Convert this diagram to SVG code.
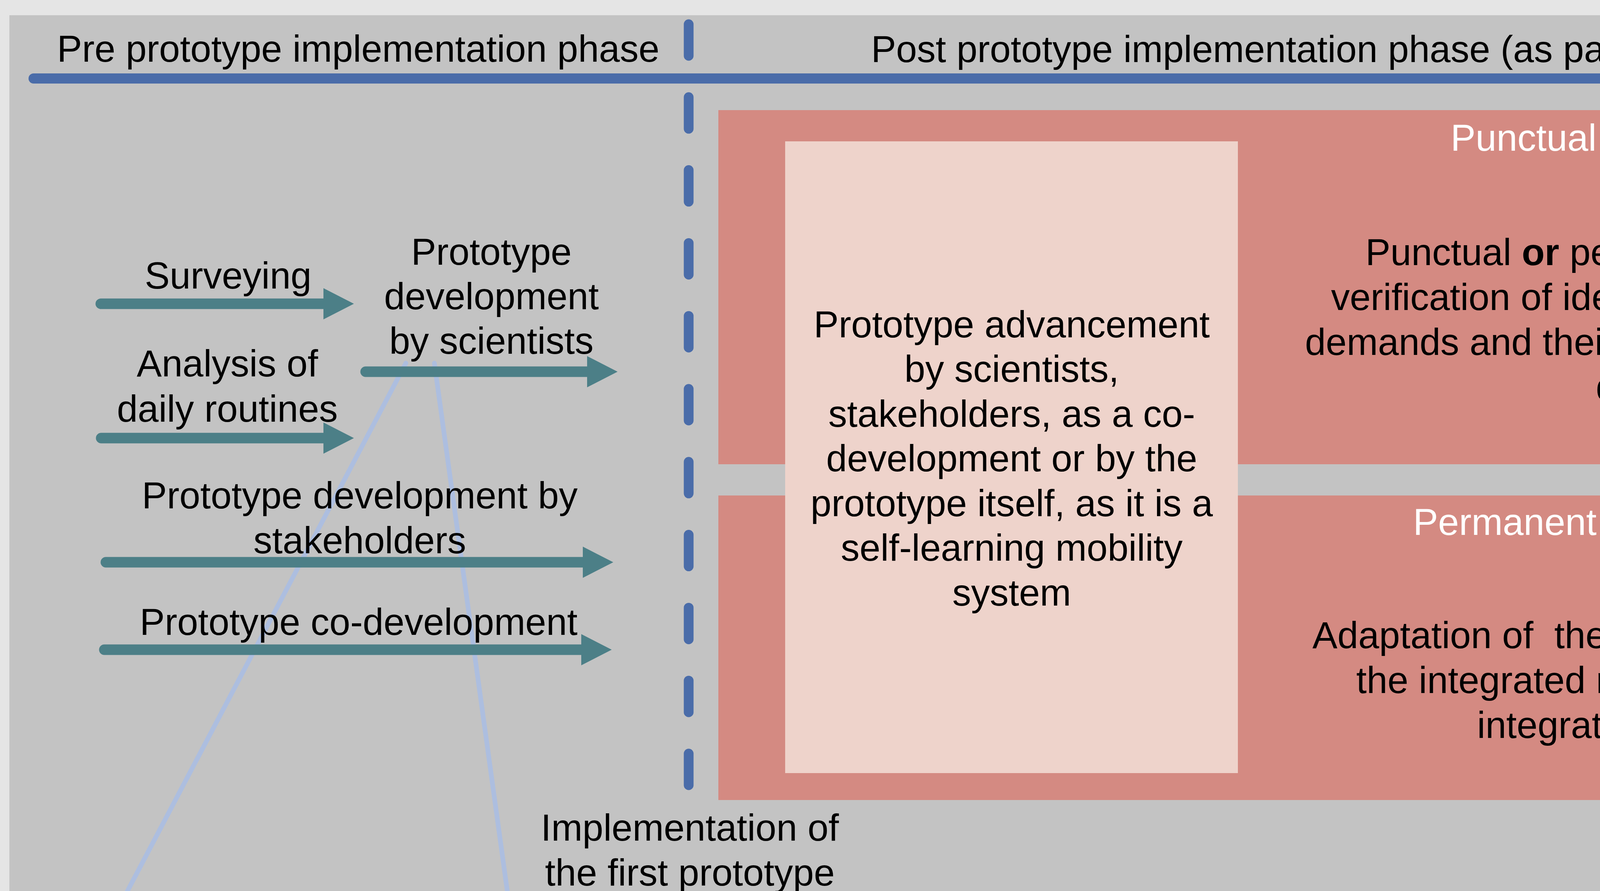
<svg xmlns="http://www.w3.org/2000/svg" width="5673" height="2282" viewBox="0 0 5673 2282">
<style>
text{font-family:"Liberation Sans",Arial,"DejaVu Sans",sans-serif;font-size:96px;fill:#000}
.c{text-anchor:middle}
.r{text-anchor:end}
.w{fill:#fff}
.teal{stroke:#4c7f87;stroke-width:27;stroke-linecap:round;fill:none}
.thin{stroke:#adbedf;stroke-width:12;stroke-linecap:round;fill:none}
.pink{fill:#d48a82}
.light{fill:#eed3cb}
</style>
<defs>
<marker id="tealHead" markerUnits="userSpaceOnUse" markerWidth="78" markerHeight="80" viewBox="0 0 78 80" refX="0" refY="40" orient="auto">
<path d="M0,0 L78,40 L0,80 Z" fill="#4c7f87"/>
</marker>
<marker id="blueHead" markerUnits="userSpaceOnUse" markerWidth="80" markerHeight="80" viewBox="0 0 80 80" refX="0" refY="40" orient="auto">
<path d="M0,1 L80,40 L0,79 Z" fill="#4a6ca9"/>
</marker>
</defs>
<rect x="0" y="0" width="5673" height="2282" fill="#e5e5e5"/>
<rect id="panel" x="24" y="39" width="5627" height="2260" fill="#c3c3c3"/>

<g id="timeline">
<line x1="86" y1="201" x2="5510" y2="201" stroke="#4a6ca9" stroke-width="26" stroke-linecap="round" marker-end="url(#blueHead)"/>
<line x1="1763" y1="62" x2="1763" y2="2011" stroke="#4a6ca9" stroke-width="25" stroke-linecap="round" stroke-dasharray="81 105.8"/>
<text class="c" x="917" y="158">Pre prototype implementation phase</text>
<text class="c" x="3676" y="159">Post prototype implementation phase (as part of a reality laboratory)</text>
</g>

<g id="connectors">
<line class="thin" x1="1039" y1="930" x2="321" y2="2292"/>
<line class="thin" x1="1112" y1="930" x2="1300" y2="2292"/>
<line class="teal" x1="258" y1="778" x2="828" y2="778" marker-end="url(#tealHead)"/>
<line class="teal" x1="936" y1="952" x2="1503" y2="952" marker-end="url(#tealHead)"/>
<line class="teal" x1="259" y1="1122" x2="828" y2="1122" marker-end="url(#tealHead)"/>
<line class="teal" x1="271" y1="1440" x2="1492" y2="1440" marker-end="url(#tealHead)"/>
<line class="teal" x1="267" y1="1664" x2="1488" y2="1664" marker-end="url(#tealHead)"/>
</g>

<g id="surveying"><text class="c" x="584" y="739">Surveying</text></g>
<g id="dev-scientists">
<text class="c" x="1258" y="678">Prototype</text>
<text class="c" x="1258" y="792">development</text>
<text class="c" x="1258" y="906">by scientists</text>
</g>
<g id="analysis">
<text class="c" x="582" y="964">Analysis of</text>
<text class="c" x="582" y="1080">daily routines</text>
</g>
<g id="dev-stakeholders">
<text class="c" x="921" y="1302">Prototype development by</text>
<text class="c" x="921" y="1417">stakeholders</text>
</g>
<g id="co-development"><text class="c" x="918" y="1626">Prototype co-development</text></g>
<g id="implementation">
<text class="c" x="1766" y="2153">Implementation of</text>
<text class="c" x="1766" y="2268">the first prototype</text>
</g>

<g id="punctual">
<path class="pink" d="M1839,282 H5408 L5515,736 L5408,1189 H1839 Z"/>
<text class="r w" x="5384" y="386">Punctual advancement of the prototype</text>
<text class="r w" x="5384" y="502">(modify punctually)</text>
<text class="c" x="4360" y="679">Punctual <tspan font-weight="bold">or</tspan> permanent identification and</text>
<text class="c" x="4360" y="794">verification of identified needs, requirements,</text>
<text class="c" x="4360" y="909">demands and their integration into the prototype</text>
<text class="c" x="4360" y="1024">development</text>
</g>

<g id="permanent">
<path class="pink" d="M1839,1269 H5408 L5515,1659 L5408,2049 H1839 Z"/>
<text class="r w" x="5384" y="1370">Permanent advancement of the prototype</text>
<text class="r w" x="5384" y="1484">(adapt permanently)</text>
<text class="c" x="4355" y="1660" xml:space="preserve">Adaptation of  the existing external system and</text>
<text class="c" x="4355" y="1775">the integrated mobility system towards an</text>
<text class="c" x="4355" y="1890">integration of both systems</text>
</g>

<g id="advancement">
<rect class="light" x="2010" y="362" width="1159" height="1618"/>
<text class="c" x="2590" y="864">Prototype advancement</text>
<text class="c" x="2590" y="978">by scientists,</text>
<text class="c" x="2590" y="1093">stakeholders, as a co-</text>
<text class="c" x="2590" y="1207">development or by the</text>
<text class="c" x="2590" y="1322">prototype itself, as it is a</text>
<text class="c" x="2590" y="1436">self-learning mobility</text>
<text class="c" x="2590" y="1551">system</text>
</g>
</svg>
